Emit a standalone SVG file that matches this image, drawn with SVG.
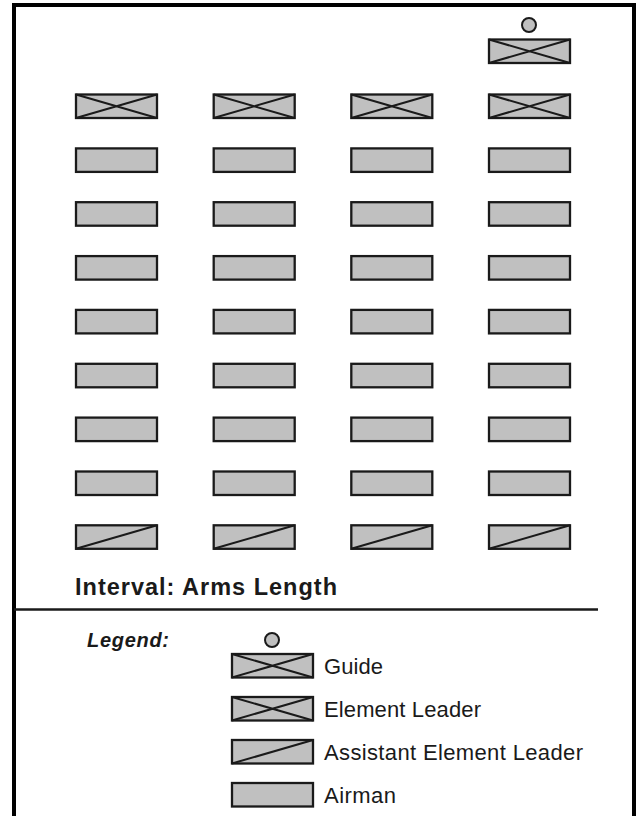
<svg xmlns="http://www.w3.org/2000/svg" width="637" height="816" viewBox="0 0 637 816">
<style>
.p{fill:#c0c0c0;stroke:#1a1a1a;stroke-width:2.3}
.d{stroke:#1a1a1a;stroke-width:2;fill:none}
.c{fill:#c0c0c0;stroke:#1a1a1a;stroke-width:2}
.t{font-family:"Liberation Sans",Arial,sans-serif;fill:#1a1a1a}
</style>
<defs>
<g id="airman"><rect class="p" x="0" y="0" width="81" height="23.5"/></g>
<g id="leader"><rect class="p" x="0" y="0" width="81" height="23.5"/><path class="d" d="M0,0 L81,23.5 M0,23.5 L81,0"/></g>
<g id="asst"><rect class="p" x="0" y="0" width="81" height="23.5"/><path class="d" d="M0,23.5 L81,0"/></g>
</defs>
<rect x="0" y="0" width="637" height="816" fill="#fff"/>
<path d="M14,818 V5 H634 V818" fill="none" stroke="#000" stroke-width="4"/>

<g id="guide">
<circle class="c" cx="529" cy="25" r="7"/>
<use href="#leader" x="489" y="39.5"/>
</g>

<g id="col1">
<use href="#leader" x="76" y="94.5"/>
<use href="#airman" x="76" y="148.4"/>
<use href="#airman" x="76" y="202.2"/>
<use href="#airman" x="76" y="256.1"/>
<use href="#airman" x="76" y="309.9"/>
<use href="#airman" x="76" y="363.8"/>
<use href="#airman" x="76" y="417.6"/>
<use href="#airman" x="76" y="471.5"/>
<use href="#asst" x="76" y="525.3"/>
</g>
<g id="col2">
<use href="#leader" x="213.7" y="94.5"/>
<use href="#airman" x="213.7" y="148.4"/>
<use href="#airman" x="213.7" y="202.2"/>
<use href="#airman" x="213.7" y="256.1"/>
<use href="#airman" x="213.7" y="309.9"/>
<use href="#airman" x="213.7" y="363.8"/>
<use href="#airman" x="213.7" y="417.6"/>
<use href="#airman" x="213.7" y="471.5"/>
<use href="#asst" x="213.7" y="525.3"/>
</g>
<g id="col3">
<use href="#leader" x="351.3" y="94.5"/>
<use href="#airman" x="351.3" y="148.4"/>
<use href="#airman" x="351.3" y="202.2"/>
<use href="#airman" x="351.3" y="256.1"/>
<use href="#airman" x="351.3" y="309.9"/>
<use href="#airman" x="351.3" y="363.8"/>
<use href="#airman" x="351.3" y="417.6"/>
<use href="#airman" x="351.3" y="471.5"/>
<use href="#asst" x="351.3" y="525.3"/>
</g>
<g id="col4">
<use href="#leader" x="489" y="94.5"/>
<use href="#airman" x="489" y="148.4"/>
<use href="#airman" x="489" y="202.2"/>
<use href="#airman" x="489" y="256.1"/>
<use href="#airman" x="489" y="309.9"/>
<use href="#airman" x="489" y="363.8"/>
<use href="#airman" x="489" y="417.6"/>
<use href="#airman" x="489" y="471.5"/>
<use href="#asst" x="489" y="525.3"/>
</g>

<text class="t" x="75" y="595" font-size="23.5" font-weight="bold" textLength="262" lengthAdjust="spacing">Interval: Arms Length</text>
<line x1="14" y1="609.5" x2="598" y2="609.5" stroke="#1a1a1a" stroke-width="2.5"/>

<g id="legend">
<text class="t" x="87" y="647" font-size="20" font-weight="bold" font-style="italic" textLength="82" lengthAdjust="spacing">Legend:</text>
<circle class="c" cx="272" cy="640" r="7"/>
<use href="#leader" x="232" y="654"/>
<text class="t" x="324" y="674" font-size="22" textLength="59" lengthAdjust="spacing">Guide</text>
<use href="#leader" x="232" y="697"/>
<text class="t" x="324" y="717" font-size="22" textLength="157" lengthAdjust="spacing">Element Leader</text>
<use href="#asst" x="232" y="740"/>
<text class="t" x="324" y="760" font-size="22" textLength="259" lengthAdjust="spacing">Assistant Element Leader</text>
<use href="#airman" x="232" y="783"/>
<text class="t" x="324" y="803" font-size="22" textLength="72" lengthAdjust="spacing">Airman</text>
</g>
</svg>
